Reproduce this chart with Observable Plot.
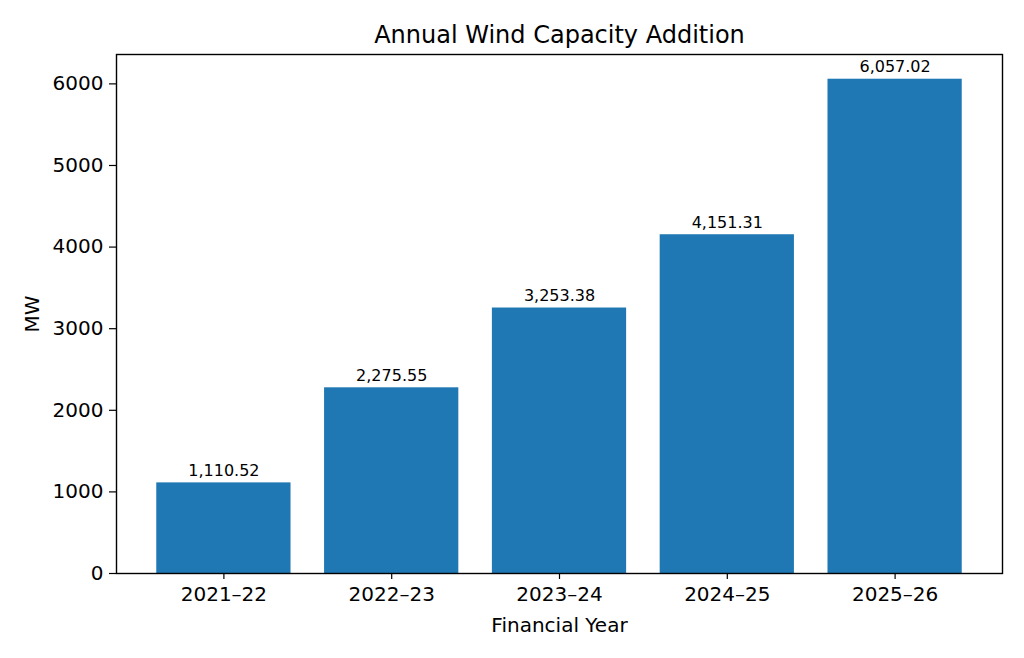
<!DOCTYPE html>
<html>
<head>
<meta charset="utf-8">
<script src="https://cdn.jsdelivr.net/npm/d3@7"></script>
<script src="https://cdn.jsdelivr.net/npm/@observablehq/plot@0.6"></script>
<style>
  html, body { margin: 0; padding: 0; background: #fff; }
  #chart { width: 1024px; height: 658px; }
</style>
</head>
<body>
<div id="chart"></div>
<script>
const years = ["2021–22", "2022–23", "2023–24", "2024–25", "2025–26"];
const capacity = [1110.52, 2275.55, 3253.38, 4151.31, 6057.02];
const yTicks = [0, 1000, 2000, 3000, 4000, 5000, 6000];
const title = "Annual Wind Capacity Addition";
const xLabel = "Financial Year";
const yLabel = "MW";

const data = years.map((y, i) => ({year: y, mw: capacity[i]}));

const chart = Plot.plot({
  width: 1024,
  height: 658,
  marginLeft: 116,
  marginRight: 22,
  marginTop: 54,
  marginBottom: 85,
  style: {fontFamily: "DejaVu Sans", fontSize: "20px", color: "#000", background: "#fff"},
  x: {domain: years, paddingInner: 0.2, paddingOuter: 0.24, round: false},
  y: {domain: [0, 6360]},
  marks: [
    Plot.barY(data, {x: "year", y: "mw", fill: "#1f77b4"}),
    Plot.text(data, {x: "year", y: "mw", text: d => d3.format(",.2f")(d.mw), dy: -7, lineAnchor: "bottom", fontSize: 16, fill: "#000"}),
    Plot.frame({stroke: "#000", strokeWidth: 1.4}),
    Plot.axisX({tickSize: 6, tickPadding: 7, label: xLabel, labelAnchor: "center", labelArrow: "none", labelOffset: 58, strokeWidth: 1.2}),
    Plot.axisY({ticks: yTicks, tickFormat: d3.format("d"), tickSize: 7, tickPadding: 6, label: yLabel, labelAnchor: "center", labelArrow: "none", labelOffset: 92, strokeWidth: 1.2}),
    Plot.text([title], {frameAnchor: "top", dy: -12, lineAnchor: "bottom", fontSize: 24, fill: "#000"})
  ]
});
document.getElementById("chart").appendChild(chart);
</script>
</body>
</html>
